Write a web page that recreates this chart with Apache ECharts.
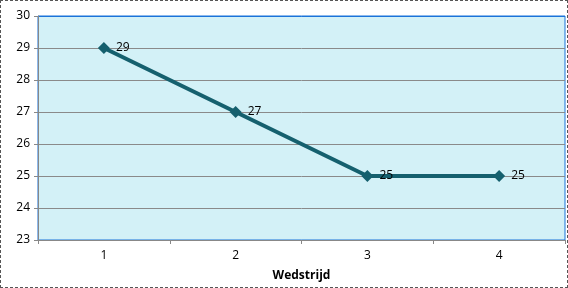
<!DOCTYPE html>
<html><head><meta charset="utf-8">
<script src="https://cdn.jsdelivr.net/npm/echarts@6/dist/echarts.min.js"></script>
<style>
html,body{margin:0;padding:0;background:#fff;}
#c{width:568px;height:288px;box-sizing:border-box;border:1px dashed #555;}
</style></head>
<body><div id="c"></div>
<script>
const categories = ['1','2','3','4'];
const values = [29, 27, 25, 25];
const xName = 'Wedstrijd';
const chart = echarts.init(document.getElementById('c'));
chart.setOption({
  animation:false,
  grid:{left:37,right:2,top:15,bottom:46,show:true,backgroundColor:'#d3f1f7',borderWidth:1,borderColor:'#1a73d9'},
  xAxis:{type:'category',data:categories,boundaryGap:true,
    name:xName,nameLocation:'middle',nameGap:30,
    nameTextStyle:{fontFamily:'Open Sans',fontWeight:'bold',fontSize:12,color:'#000'},
    axisLine:{lineStyle:{color:'#888',width:1}},
    axisTick:{show:true,alignWithLabel:false,length:4,lineStyle:{color:'#888'}},
    axisLabel:{fontFamily:'Open Sans',fontSize:12,color:'#000',margin:10},
    splitLine:{show:false}},
  yAxis:{type:'value',min:23,max:30,interval:1,
    axisLine:{show:true,lineStyle:{color:'#888'}},
    axisTick:{show:true,length:4,lineStyle:{color:'#888'}},
    axisLabel:{fontFamily:'Open Sans',fontSize:12,color:'#000',margin:8},
    splitLine:{show:true,lineStyle:{color:['#8a8a8a','#8a8a8a','#8a8a8a','#8a8a8a','#8a8a8a','#8a8a8a','#8a8a8a','#1a73d9'],width:1}}},
  series:[{type:'line',data:values,symbol:'diamond',symbolSize:12,
    lineStyle:{color:'#15606e',width:4},itemStyle:{color:'#15606e'},
    label:{show:true,position:'right',distance:6,fontFamily:'Open Sans',fontSize:12,color:'#000'}}]
});
</script></body></html>
